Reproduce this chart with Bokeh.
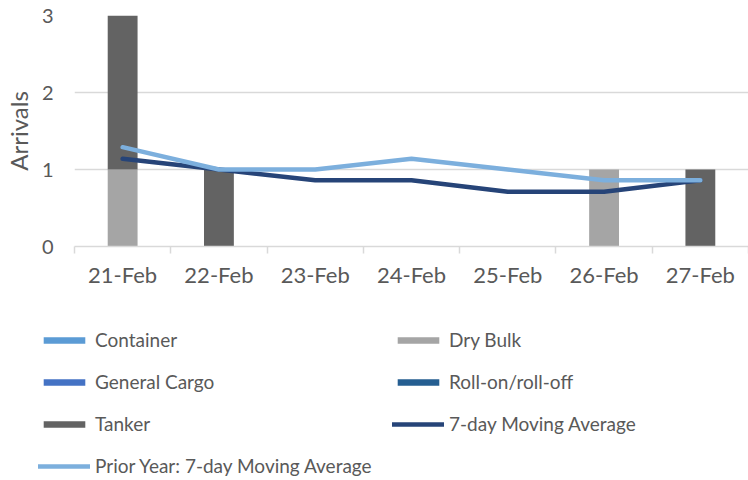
from bokeh.plotting import figure
from bokeh.layouts import column
from bokeh.models import (ColumnDataSource, FixedTicker, Legend, LegendItem, Range1d)
from bokeh.embed import file_html
from bokeh.resources import INLINE

# ---- data ----
dates = ["21-Feb", "22-Feb", "23-Feb", "24-Feb", "25-Feb", "26-Feb", "27-Feb"]
container = [0, 0, 0, 0, 0, 0, 0]
dry_bulk = [1, 0, 0, 0, 0, 1, 0]
general_cargo = [0, 0, 0, 0, 0, 0, 0]
roll_on_roll_off = [0, 0, 0, 0, 0, 0, 0]
tanker = [2, 1, 0, 0, 0, 0, 1]
moving_avg_7day = [1.14, 1.0, 0.86, 0.86, 0.71, 0.71, 0.86]
prior_year_moving_avg = [1.29, 1.0, 1.0, 1.14, 1.0, 0.86, 0.86]
y_ticks = [0, 1, 2, 3]

series_names = ["Container", "Dry Bulk", "General Cargo", "Roll-on/roll-off", "Tanker"]
series_colors = ["#5B9BD5", "#A5A5A5", "#4472C4", "#255E91", "#636363"]
ma_name = "7-day Moving Average"
prior_name = "Prior Year: 7-day Moving Average"
ma_color = "#264478"
prior_color = "#7CAFDD"

FONT = "Lato"
TXT = "#595959"
GRID = "#D9D9D9"

xs = [i + 0.5 for i in range(len(dates))]
boundaries = list(range(len(dates) + 1))
src = ColumnDataSource(dict(
    x=xs,
    **{"Container": container, "Dry Bulk": dry_bulk, "General Cargo": general_cargo,
       "Roll-on/roll-off": roll_on_roll_off, "Tanker": tanker},
    ma=moving_avg_7day,
    prior=prior_year_moving_avg,
))


def draw_series(fig):
    bars = fig.vbar_stack(series_names, x="x", width=0.31, source=src,
                          color=series_colors, line_color=None)
    r_ma = fig.line("x", "ma", source=src, line_color=ma_color, line_width=4.5,
                    line_cap="round", line_join="round")
    r_pr = fig.line("x", "prior", source=src, line_color=prior_color, line_width=4.5,
                    line_cap="round", line_join="round")
    return bars, r_ma, r_pr


W = 748
H_CHART = 290
H_LEGEND = 188

# ---------------- chart ----------------
p = figure(width=W, height=H_CHART, output_backend="svg", toolbar_location=None,
           x_range=Range1d(0, len(dates)), y_range=Range1d(0, 3),
           min_border_top=15, min_border_right=0, min_border_left=66,
           min_border_bottom=43)
p.outline_line_color = None
draw_series(p)

yax = p.yaxis[0]
yax.ticker = FixedTicker(ticks=y_ticks)
yax.axis_line_color = None
yax.major_tick_line_color = None
yax.minor_tick_line_color = None
yax.major_tick_out = 0
yax.major_label_standoff = 21
yax.major_label_text_font = FONT
yax.major_label_text_font_size = "20px"
yax.major_label_text_color = TXT
yax.axis_label = "Arrivals"
yax.axis_label_text_font = FONT
yax.axis_label_text_font_size = "24px"
yax.axis_label_text_font_style = "normal"
yax.axis_label_text_color = TXT
yax.axis_label_standoff = 6

xax = p.xaxis[0]
xax.ticker = FixedTicker(ticks=xs, minor_ticks=boundaries)
xax.major_label_overrides = {x: d for x, d in zip(xs, dates)}
xax.major_tick_line_color = None
xax.major_tick_out = 0
xax.major_tick_in = 0
xax.minor_tick_line_color = GRID
xax.minor_tick_line_width = 1.5
xax.minor_tick_out = 7
xax.minor_tick_in = 0
xax.axis_line_color = GRID
xax.axis_line_width = 1.5
xax.major_label_standoff = 7
xax.major_label_text_font = FONT
xax.major_label_text_font_size = "22px"
xax.major_label_text_color = TXT

p.ygrid.ticker = FixedTicker(ticks=y_ticks)
p.ygrid.grid_line_color = GRID
p.ygrid.grid_line_width = 1.5
p.xgrid.visible = False

# ---------------- legend panel (same series, view kept off their values) ----------------
lf = figure(width=W, height=H_LEGEND, output_backend="svg", toolbar_location=None,
            x_range=Range1d(0, len(dates)), y_range=Range1d(100, 101),
            min_border=0, min_border_left=0, min_border_right=0,
            min_border_top=0, min_border_bottom=0,
            x_axis_type=None, y_axis_type=None)
lf.outline_line_color = None
lf.grid.visible = False
l_bars, l_ma, l_pr = draw_series(lf)

for fig in (p, lf):
    try:
        fig.frame_align = False
    except Exception:
        pass

items = [LegendItem(label=n, renderers=[r]) for n, r in zip(series_names, l_bars)]
items.append(LegendItem(label=ma_name, renderers=[l_ma]))
items.append(LegendItem(label=prior_name, renderers=[l_pr]))

legend = Legend(items=items, location=(38, 1), ncols=2, orientation="horizontal",
                glyph_width=52, glyph_height=8, label_standoff=5,
                label_width=278, label_height=20, spacing=19, padding=0, margin=0,
                border_line_color=None, background_fill_alpha=0,
                label_text_font=FONT, label_text_font_size="19px",
                label_text_color=TXT)
lf.add_layout(legend)

layout = column(p, lf, spacing=0)
open("out.html", "w").write(file_html(layout, INLINE))
